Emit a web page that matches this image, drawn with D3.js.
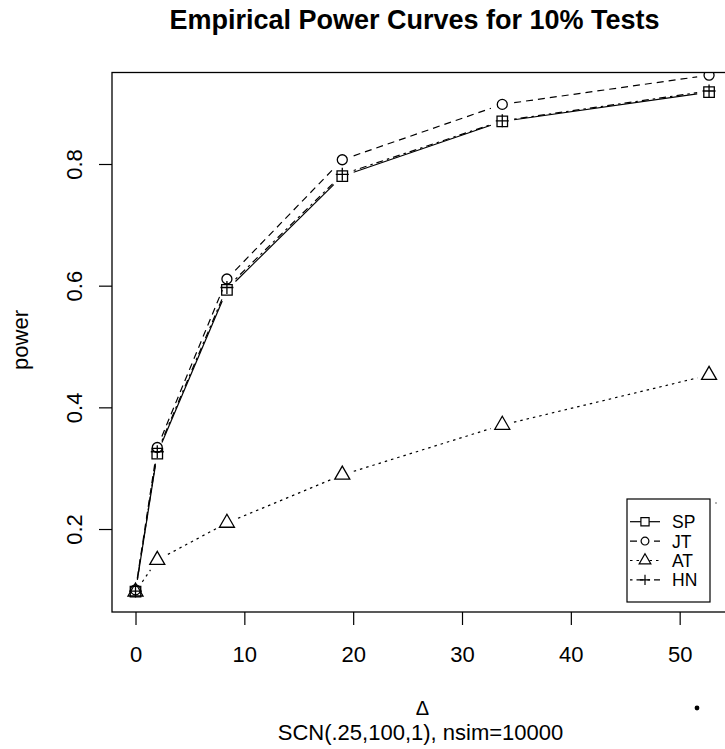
<!DOCTYPE html>
<html>
<head>
<meta charset="utf-8">
<script src="https://cdn.jsdelivr.net/npm/d3@7"></script>
<style>
  body { margin: 0; background: #fff; }
  svg { display: block; font-family: "Liberation Sans", Arial, sans-serif; }
</style>
</head>
<body>
<div id="chart"></div>
<script>
// values
const delta = [0, 2, 8.4, 19, 33.7, 52.7]
const powerSP = [0.097, 0.324, 0.593, 0.780, 0.870, 0.918]
const powerJT = [0.100, 0.334, 0.611, 0.807, 0.898, 0.946]
const powerAT = [0.097, 0.149, 0.210, 0.289, 0.371, 0.453]
const powerHN = [0.098, 0.327, 0.597, 0.783, 0.871, 0.920]
const testNames = ["SP", "JT", "AT", "HN"]
const xTicks = [0, 10, 20, 30, 40, 50]
const yTicks = [0.2, 0.4, 0.6, 0.8]

const width = 725
const height = 749
const box = {left: 112, right: 733, top: 72.5, bottom: 612}

const svg = d3.select("#chart")
  .append("svg")
    .attr("width", width)
    .attr("height", height)

let x = d3.scaleLinear()
  .domain([-2.16, 54.9])
  .range([box.left, box.right])

let y = d3.scaleLinear()
  .domain([0.0636, 0.9504])
  .range([box.bottom, box.top])

svg.append("defs").append("clipPath")
    .attr("id", "plotclip")
  .append("rect")
    .attr("x", box.left)
    .attr("y", box.top)
    .attr("width", box.right - box.left)
    .attr("height", box.bottom - box.top)

// marker shapes, R pch 0,1,2,3
function marker(kind, s) {
  s = s || 1
  if (kind === "SP") { let h = 5.25 * s; return `M${-h},${-h}H${h}V${h}H${-h}Z` }
  if (kind === "JT") { let r = 5 * s; return `M${r},0A${r},${r} 0 1,1 ${-r},0A${r},${r} 0 1,1 ${r},0Z` }
  if (kind === "AT") { let w = 7.5 * s, t = 8.7 * s, b = 4.3 * s; return `M0,${-t}L${w},${b}L${-w},${b}Z` }
  let a = 6.5 * s
  return `M${-a},0H${a}M0,${-a}V${a}`
}

const dashes = {SP: null, JT: "7,5", AT: "2.5,4", HN: "2.5,4,7,4"}

const series = [
  {name: "SP", values: powerSP},
  {name: "JT", values: powerJT},
  {name: "AT", values: powerAT},
  {name: "HN", values: powerHN}
]

const plot = svg.append("g").attr("clip-path", "url(#plotclip)")

const gap = 12
series.forEach(s => {
  let pts = delta.map((d, i) => [x(d), y(s.values[i])])
  let g = plot.append("g")
  // type="b": segments stop short of the points
  for (let i = 0; i < pts.length - 1; i++) {
    let [x0, y0] = pts[i], [x1, y1] = pts[i + 1]
    let len = Math.hypot(x1 - x0, y1 - y0)
    if (len <= 2 * gap) continue
    let ux = (x1 - x0) / len, uy = (y1 - y0) / len
    g.append("line")
      .attr("x1", x0 + ux * gap).attr("y1", y0 + uy * gap)
      .attr("x2", x1 - ux * gap).attr("y2", y1 - uy * gap)
      .attr("stroke", "#000")
      .attr("stroke-width", 1.2)
      .attr("stroke-dasharray", dashes[s.name])
  }
  g.selectAll("path")
    .data(pts)
    .enter()
    .append("path")
      .attr("transform", d => "translate(" + d[0] + "," + d[1] + ")")
      .attr("d", marker(s.name))
      .attr("fill", "none")
      .attr("stroke", "#000")
      .attr("stroke-width", 1.3)
})

// frame
svg.append("rect")
  .attr("x", box.left)
  .attr("y", box.top)
  .attr("width", box.right - box.left)
  .attr("height", box.bottom - box.top)
  .attr("fill", "none")
  .attr("stroke", "#000")
  .attr("stroke-width", 1.3)

// axes
let xAxis = svg.append("g")
  .attr("transform", "translate(0," + box.bottom + ")")
  .call(d3.axisBottom(x).tickValues(xTicks).tickSize(13).tickPadding(21).tickFormat(d3.format("d")))
xAxis.select(".domain").remove()
xAxis.selectAll("line").attr("stroke", "#000").attr("stroke-width", 1.2)
xAxis.selectAll("text")
  .attr("font-size", "22px")
  .attr("font-family", "'Liberation Sans', Arial, sans-serif")
  .attr("fill", "#000")

let yAxis = svg.append("g")
  .attr("transform", "translate(" + box.left + ",0)")
  .call(d3.axisLeft(y).tickValues(yTicks).tickSize(13).tickFormat(d3.format(".1f")))
yAxis.select(".domain").remove()
yAxis.selectAll("line").attr("stroke", "#000").attr("stroke-width", 1.2)
yAxis.selectAll("text")
  .attr("x", 0)
  .attr("y", -30)
  .attr("dy", 0)
  .attr("transform", "rotate(-90)")
  .attr("text-anchor", "middle")
  .attr("font-size", "22px")
  .attr("font-family", "'Liberation Sans', Arial, sans-serif")
  .attr("fill", "#000")

// titles
svg.append("text")
  .attr("x", 414.5)
  .attr("y", 29)
  .attr("text-anchor", "middle")
  .attr("font-size", "27px")
  .attr("font-weight", "bold")
  .text("Empirical Power Curves for 10% Tests")

svg.append("text")
  .attr("x", 28)
  .attr("y", 340)
  .attr("transform", "rotate(-90,28,340)")
  .attr("text-anchor", "middle")
  .attr("font-size", "22px")
  .text("power")

svg.append("text")
  .attr("x", 422.5)
  .attr("y", 715)
  .attr("text-anchor", "middle")
  .attr("font-size", "20px")
  .text("Δ")

svg.append("text")
  .attr("x", 420.5)
  .attr("y", 740)
  .attr("text-anchor", "middle")
  .attr("font-size", "22px")
  .text("SCN(.25,100,1), nsim=10000")

// legend
const legend = svg.append("g")
legend.append("rect")
  .attr("x", 627)
  .attr("y", 499)
  .attr("width", 83)
  .attr("height", 103)
  .attr("fill", "#fff")
  .attr("stroke", "#000")
  .attr("stroke-width", 1.2)

let rows = legend.selectAll(".row")
  .data(testNames)
  .enter()
  .append("g")
    .attr("class", "row")
    .attr("transform", (d, i) => "translate(0," + (521.7 + i * 19.4) + ")")
rows.append("line")
  .attr("x1", 630).attr("x2", 660)
  .attr("stroke", "#000")
  .attr("stroke-width", 1.2)
  .attr("stroke-dasharray", d => dashes[d])
rows.append("path")
  .attr("transform", "translate(645,0)")
  .attr("d", d => marker(d, 0.78))
  .attr("fill", "#fff")
  .attr("stroke", "#000")
  .attr("stroke-width", 1.2)
rows.append("text")
  .attr("x", 672)
  .attr("y", 6.5)
  .attr("font-size", "17.5px")
  .text(d => d)

// stray dots in the source image
svg.append("circle").attr("cx", 697).attr("cy", 708).attr("r", 2.4).attr("fill", "#000")
svg.append("circle").attr("cx", 716).attr("cy", 503).attr("r", 0.8).attr("fill", "#555")
</script>
</body>
</html>
